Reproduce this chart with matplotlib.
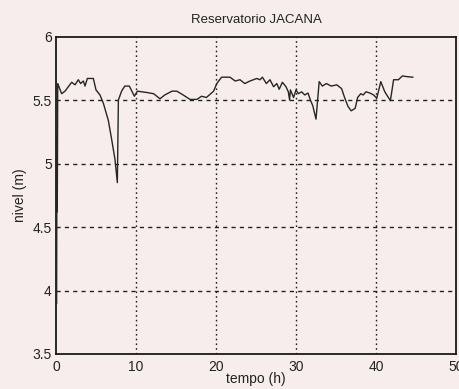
import matplotlib
matplotlib.use("Agg")
import matplotlib.pyplot as plt

# Reservoir level over time
tempo = [0.08, 0.12, 0.16, 0.22, 0.71, 1.13, 1.96, 2.38, 2.79, 3.08, 3.42, 3.63, 3.92,
         4.67, 5.0, 5.5, 5.92, 6.54, 6.96, 7.38, 7.67, 7.8, 8.2, 8.6, 9.17, 9.8,
         10.17, 11.3, 12.2, 13.0, 13.6, 14.5, 15.1, 15.9, 16.75, 17.6, 18.2, 18.8,
         19.7, 20.1, 20.7, 21.75, 22.4, 23.0, 23.6, 24.25, 25.1, 25.5, 25.8, 26.3,
         26.75, 27.2, 27.6, 27.9, 28.3, 28.75, 29.04, 29.2, 29.3, 29.7, 30.0, 30.3,
         30.7, 31.1, 31.5, 31.8, 32.1, 32.5, 32.9, 33.3, 33.8, 34.4, 35.1, 35.7,
         36.1, 36.5, 36.9, 37.4, 37.7, 38.1, 38.4, 38.75, 39.25, 39.7, 40.1, 40.6,
         41.1, 41.8, 42.2, 42.8, 43.3, 43.8, 44.6]
nivel = [3.9, 5.22, 4.62, 5.63, 5.55, 5.57, 5.64, 5.62, 5.66, 5.63, 5.65, 5.61, 5.67,
         5.67, 5.58, 5.54, 5.475, 5.34, 5.19, 5.03, 4.85, 5.5, 5.57, 5.61, 5.61, 5.53,
         5.57, 5.56, 5.55, 5.51, 5.54, 5.57, 5.57, 5.54, 5.505, 5.505, 5.53, 5.52,
         5.57, 5.63, 5.68, 5.68, 5.65, 5.66, 5.63, 5.65, 5.67, 5.66, 5.68, 5.63,
         5.66, 5.605, 5.63, 5.585, 5.64, 5.605, 5.565, 5.5, 5.58, 5.52, 5.58, 5.55,
         5.565, 5.54, 5.555, 5.5, 5.455, 5.35, 5.645, 5.61, 5.63, 5.61, 5.62, 5.59,
         5.515, 5.45, 5.415, 5.435, 5.52, 5.55, 5.54, 5.565, 5.555, 5.54, 5.515, 5.645,
         5.565, 5.495, 5.66, 5.66, 5.69, 5.685, 5.68]

xticks = [0, 10, 20, 30, 40, 50]
yticks = [3.5, 4, 4.5, 5, 5.5, 6]

plt.rcParams['font.family'] = ['Liberation Sans', 'DejaVu Sans']
bg = '#f8eded'

fig = plt.figure(figsize=(4.6, 3.89), dpi=100, facecolor=bg)
ax = fig.add_axes([0.1217, 0.09, 0.8696, 0.816], facecolor=bg)

ax.plot(tempo, nivel, color='#262626', linewidth=1.0, zorder=3)

ax.set_xlim(0, 50)
ax.set_ylim(3.5, 6)
ax.set_xticks(xticks)
ax.set_yticks(yticks)
ax.set_xticklabels([str(v) for v in xticks])
ax.set_yticklabels(['3.5', '4', '4.5', '5', '5.5', '6'])
ax.tick_params(direction='in', length=0, labelsize=10, colors='#222222')
ax.tick_params(axis='x', pad=4)
ax.tick_params(axis='y', pad=3)

for v in xticks[1:-1]:
    ax.axvline(v, color='#222222', linewidth=1.0, linestyle=(0, (1.2, 2.2)), zorder=1)
for v in yticks[1:-1]:
    ax.axhline(v, color='#222222', linewidth=1.0, linestyle=(0, (3, 3)), zorder=1)

for s in ax.spines.values():
    s.set_color('#1a1a1a')
    s.set_linewidth(1.3)
    s.set_zorder(2)

ax.set_title('Reservatorio JACANA', fontsize=9.5, color='#222222', pad=10)
ax.set_xlabel('tempo (h)', fontsize=10, color='#222222', labelpad=-1)
ax.set_ylabel('nivel (m)', fontsize=10, color='#222222', labelpad=4)

fig.savefig('out.png', dpi=100, facecolor=bg)
